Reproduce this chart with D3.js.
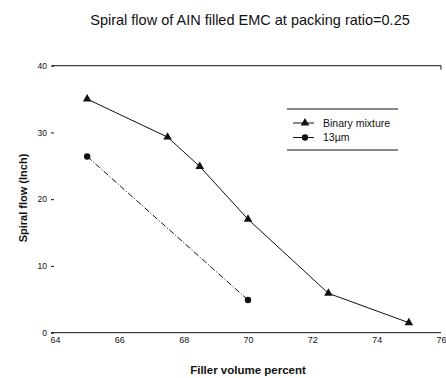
<!DOCTYPE html>
<html>
<head>
<meta charset="utf-8">
<script src="https://cdn.jsdelivr.net/npm/d3@7"></script>
<style>
  body { margin: 0; background: #fff; }
  text { font-family: "Liberation Sans", Arial, sans-serif; fill: #111; }
</style>
</head>
<body>
<div class="chart"></div>
<script>
// values
const binaryX = [65, 67.5, 68.5, 70, 72.5, 75];
const binaryY = [35.0, 29.3, 24.9, 17.0, 5.9, 1.5];
const fineX = [65, 70];
const fineY = [26.4, 4.9];
const xTicks = [64, 66, 68, 70, 72, 74, 76];
const yTicks = [0, 10, 20, 30, 40];
const seriesNames = ["Binary mixture", "13\u00b5m"];

const width = 446, height = 378;

const svg = d3.select(".chart").append("svg")
  .attr("width", width)
  .attr("height", height);

const x = d3.scaleLinear().domain([64, 76]).range([55, 441]);
const y = d3.scaleLinear().domain([0, 40]).range([332.7, 65.7]);

// title
svg.append("text")
  .attr("x", 250).attr("y", 25)
  .attr("text-anchor", "middle")
  .style("font-size", "14.5px")
  .text("Spiral flow of AIN filled EMC at packing ratio=0.25");

// top border line at 40 with the small end tick
svg.append("line")
  .attr("x1", 52).attr("x2", x(76))
  .attr("y1", y(40)).attr("y2", y(40))
  .attr("stroke", "#111");
svg.append("line")
  .attr("x1", x(76)).attr("x2", x(76))
  .attr("y1", y(40)).attr("y2", y(40) + 4)
  .attr("stroke", "#111");

// y axis (no vertical line)
const yAxis = svg.append("g")
  .attr("transform", "translate(54,0)")
  .call(d3.axisLeft(y).tickValues(yTicks).tickSize(3).tickPadding(4))
  .call(g => g.select(".domain").remove());
yAxis.selectAll("text").style("font-size", "8.5px").style("fill", "#111");
yAxis.selectAll("line").attr("stroke", "#111");

// x axis
const xAxis = svg.append("g")
  .attr("transform", `translate(0,${y(0)})`)
  .call(d3.axisBottom(x).tickValues(xTicks).tickSize(0).tickPadding(3.5));
xAxis.select(".domain").attr("stroke", "#111").attr("d", `M51,0H${x(76)}`);
xAxis.selectAll("text").style("font-size", "9px").style("fill", "#111");

// axis titles
svg.append("text")
  .attr("x", 248).attr("y", 374)
  .attr("text-anchor", "middle")
  .style("font-size", "11.5px")
  .style("font-weight", "bold")
  .text("Filler volume percent");

svg.append("text")
  .attr("transform", "translate(27,198) rotate(-90)")
  .attr("text-anchor", "middle")
  .style("font-size", "11px")
  .style("font-weight", "bold")
  .text("Spiral flow (Inch)");

const line = d3.line().x(d => x(d[0])).y(d => y(d[1]));
const binary = binaryX.map((v, i) => [v, binaryY[i]]);
const fine = fineX.map((v, i) => [v, fineY[i]]);

svg.append("path")
  .datum(binary)
  .attr("d", line)
  .attr("fill", "none")
  .attr("stroke", "#111")
  .attr("stroke-width", 1);

svg.append("path")
  .datum(fine)
  .attr("d", line)
  .attr("fill", "none")
  .attr("stroke", "#111")
  .attr("stroke-width", 1)
  .attr("stroke-dasharray", "6,2,1,2");

const tri = d3.symbol().type(d3.symbolTriangle).size(32);
const dot = d3.symbol().type(d3.symbolCircle).size(32);

svg.selectAll(".tri")
  .data(binary)
  .join("path")
  .attr("class", "tri")
  .attr("d", tri)
  .attr("transform", d => `translate(${x(d[0])},${y(d[1])})`)
  .attr("fill", "#111");

svg.selectAll(".dot")
  .data(fine)
  .join("path")
  .attr("class", "dot")
  .attr("d", dot)
  .attr("transform", d => `translate(${x(d[0])},${y(d[1])})`)
  .attr("fill", "#111");

// legend
const legend = svg.append("g");
legend.append("line").attr("x1", 287).attr("x2", 398).attr("y1", 109).attr("y2", 109).attr("stroke", "#111");
legend.append("line").attr("x1", 287).attr("x2", 398).attr("y1", 150).attr("y2", 150).attr("stroke", "#111");

const symbols = [tri, dot];
seriesNames.forEach((name, i) => {
  const ly = 123 + i * 14.5;
  legend.append("line")
    .attr("x1", 293).attr("x2", 314)
    .attr("y1", ly).attr("y2", ly)
    .attr("stroke", "#111");
  legend.append("path")
    .attr("d", symbols[i])
    .attr("transform", `translate(305,${ly})`)
    .attr("fill", "#111");
  legend.append("text")
    .attr("x", 323).attr("y", ly + 3.5)
    .style("font-size", "10.5px")
    .text(name);
});
</script>
</body>
</html>
